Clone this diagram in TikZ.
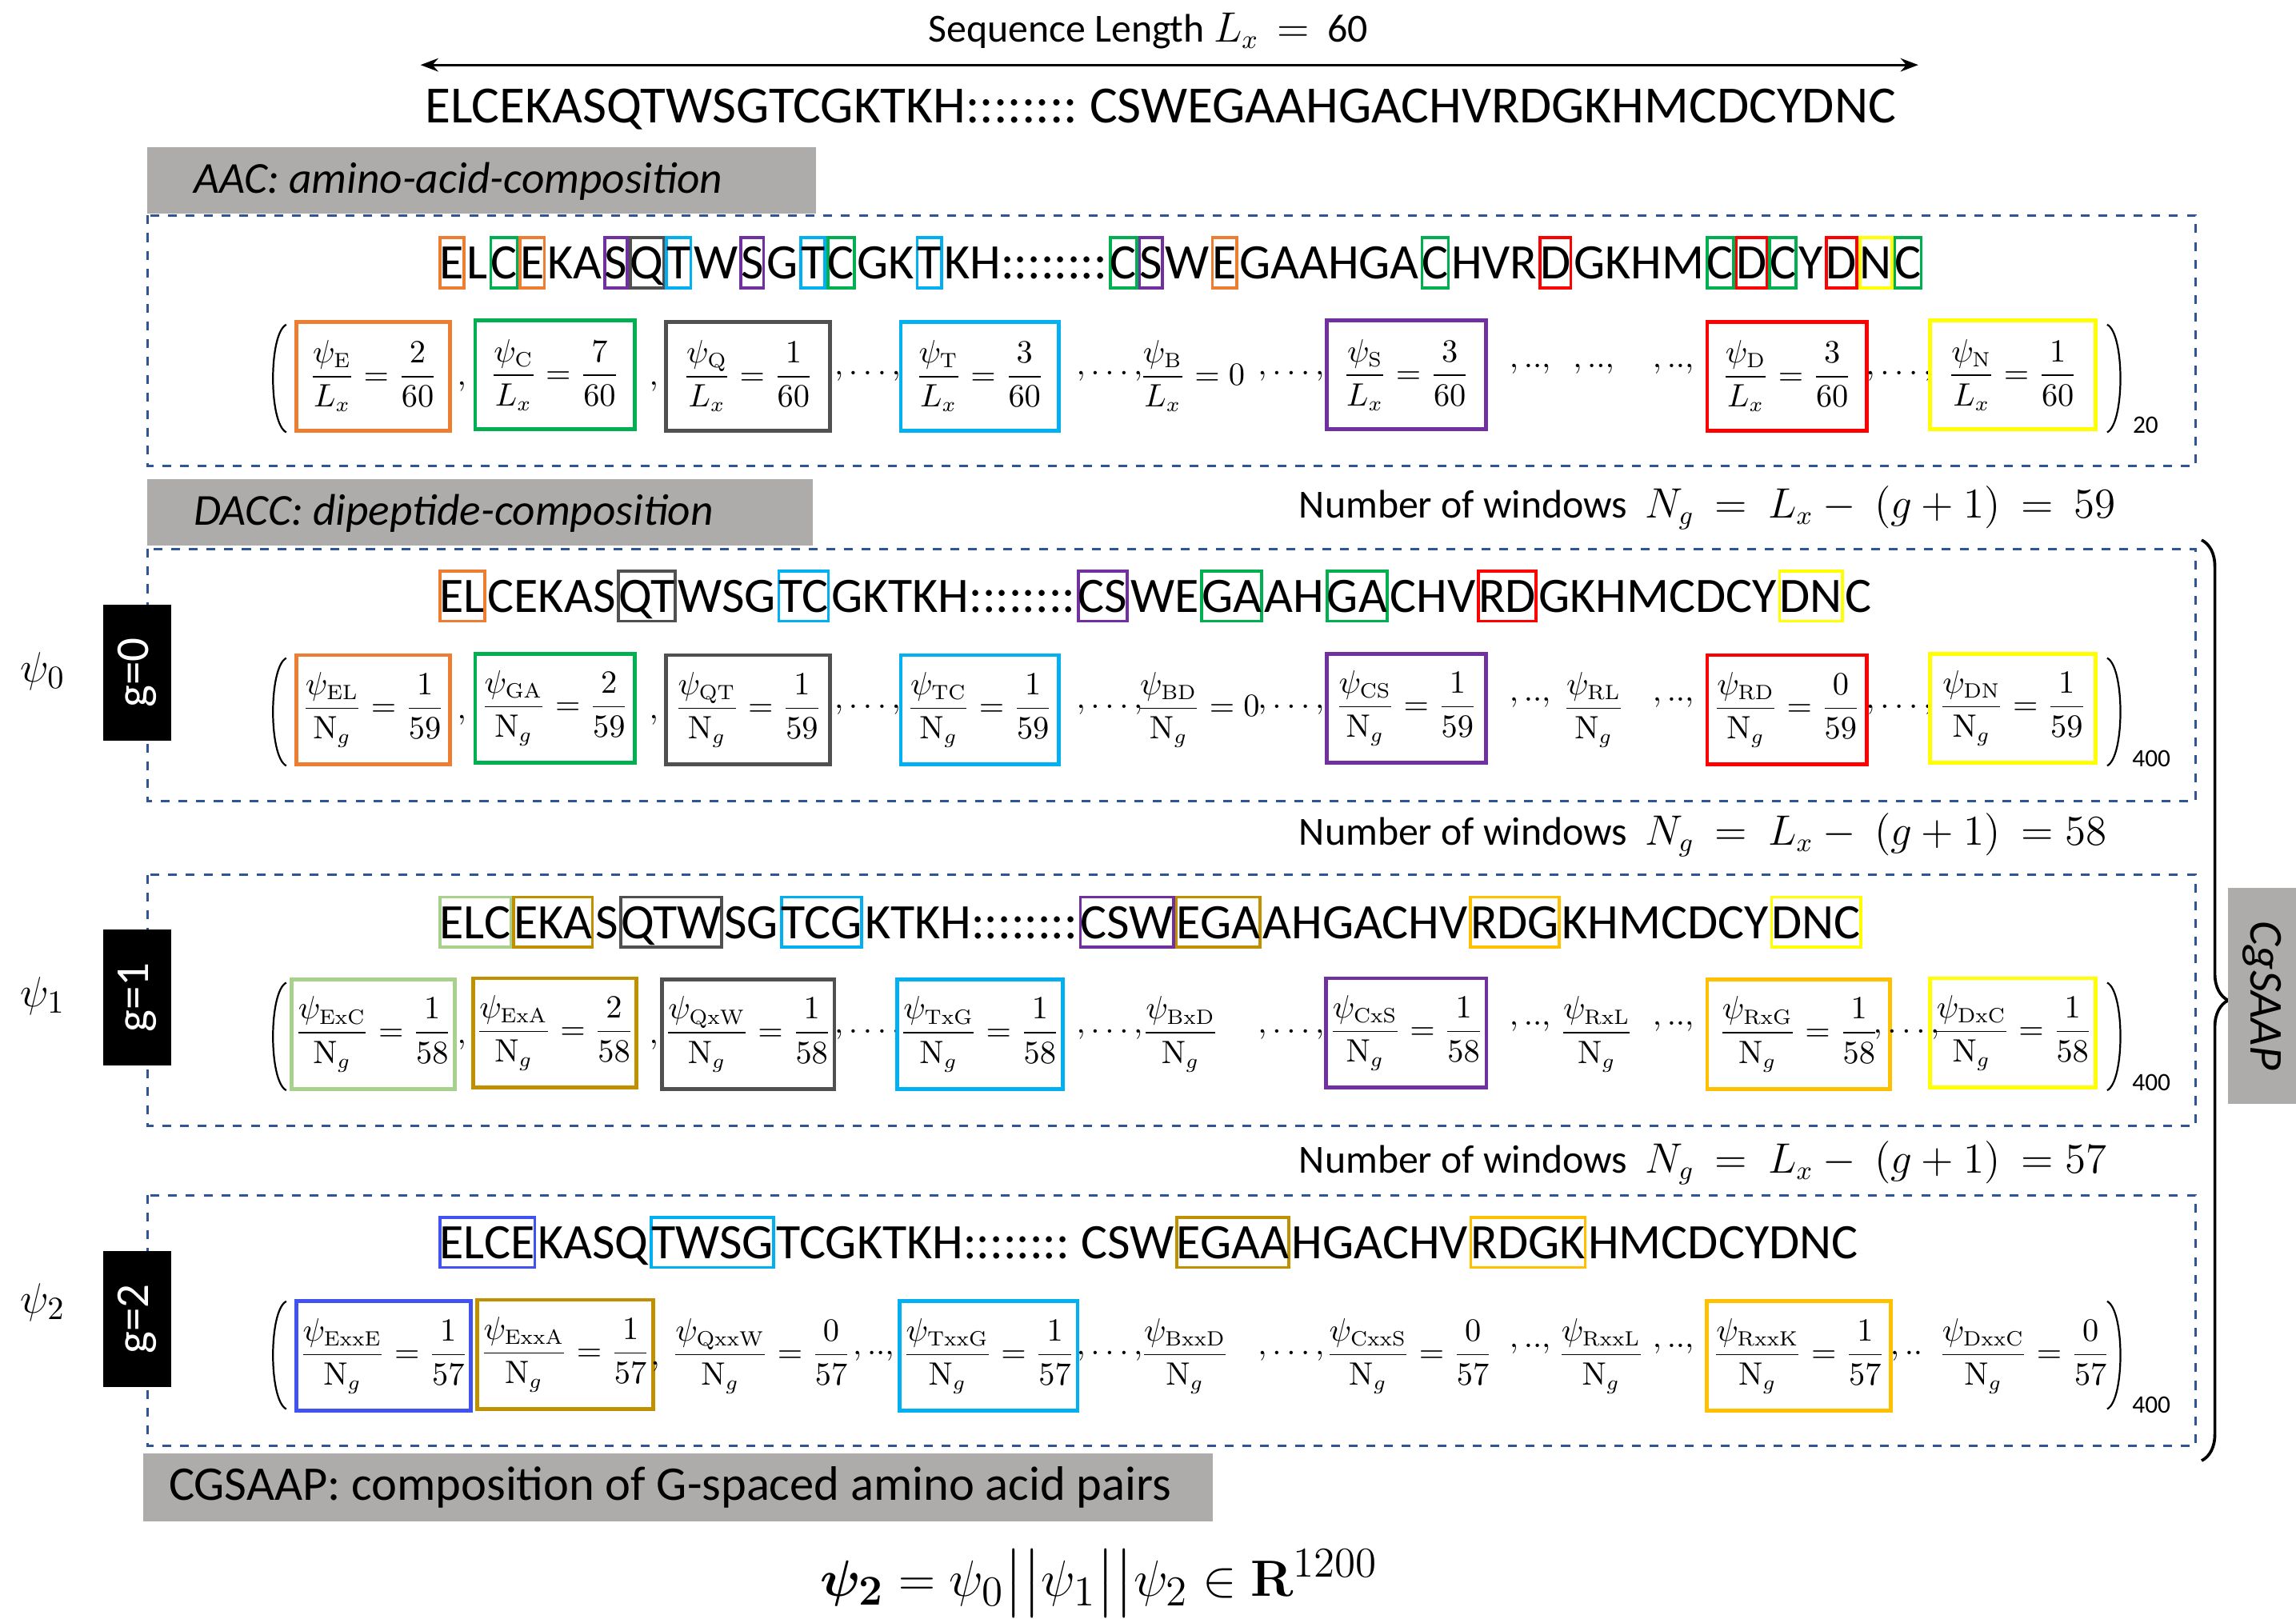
\documentclass[tikz,border=0pt]{standalone}
\usepackage{amsmath,amssymb}
\usepackage[no-math]{fontspec}
\setmainfont{Carlito}
\usetikzlibrary{decorations.pathreplacing,arrows.meta}
\definecolor{cO}{HTML}{ED7D31}\definecolor{cG}{HTML}{00B050}\definecolor{cD}{HTML}{505050}
\definecolor{cC}{HTML}{00B0F0}\definecolor{cP}{HTML}{7030A0}\definecolor{cR}{HTML}{FF0000}
\definecolor{cY}{HTML}{FFFF00}\definecolor{cL}{HTML}{A9D18E}\definecolor{cK}{HTML}{BF9000}
\definecolor{cA}{HTML}{FFC000}\definecolor{cB}{HTML}{4052F0}\definecolor{dash}{HTML}{2F5597}
\definecolor{lab}{HTML}{AEABAB}
\newcommand\seqrow[3]{\coordinate (#1p) at #2;
 \foreach \t/\c [count=\i] in {#3}{\node[seqg,seqs,draw=\c,anchor=west] (#1\i) at (#1p) {\t};\coordinate (#1p) at (#1\i.east);}}
\newcommand\fr[7]{\node[fb,draw=#4,minimum width=#3*0.5pt] (#1) at (#2) {$\dfrac{\psi_{\mathrm{#5}}}{#6}#7$};}
\newcommand\tx[3]{\node[mt] (#1) at (#2) {$#3$};}
\begin{document}
\begin{tikzpicture}[x=0.5pt,y=-0.5pt,
 seqg/.style={inner xsep=0pt,inner ysep=2.5pt,line width=1pt,font=\fontsize{17.7}{17.7}\selectfont,text height=11.5pt,text depth=0.5pt},
 seqs/.style={font=\fontsize{16.8}{16.8}\selectfont},
 fb/.style={line width=1.3pt,minimum height=37pt,inner sep=1pt,font=\fontsize{10.5}{10.5}\selectfont},
 mt/.style={inner sep=1pt,font=\fontsize{11}{11}\selectfont},
 dbox/.style={draw=dash,dashed,line width=0.8pt},
 glab/.style={anchor=west,inner sep=0pt,font=\fontsize{15}{15}\selectfont\itshape},
 nw/.style={anchor=west,inner sep=0pt,font=\fontsize{13.5}{13.5}\selectfont},
 gb/.style={fill=black,text=white,rotate=90,minimum width=46pt,minimum height=23pt,inner sep=0pt,font=\fontsize{16}{16}\selectfont},
 paren/.style={line width=0.6pt}]
\useasboundingbox (0,0) rectangle (1556,1100);
% title
\node[inner sep=0pt,font=\fontsize{13.5}{13.5}\selectfont] (title) at (778,21) {Sequence Length $L_x$ \ $=$ \ 60};
\coordinate (al) at (285,44); \coordinate (ar) at (1300,44);
\draw[{Stealth[length=6pt]}-{Stealth[length=6pt]},line width=0.8pt] (al) -- (ar);
\node[seqg,anchor=west] (seq0) at (287,72) {ELCEKASQTWSGTCGKTKH::::::::~CSWEGAAHGACHVRDGKHMCDCYDNC};
% AAC
\fill[lab] (100,100) rectangle (553,145);
\node[glab] (aac) at (131,123) {AAC: amino-acid-composition};
\draw[dbox] (100,146) rectangle (1488,316);
\seqrow{a}{(297,178)}{E/cO,L/none,C/cG,E/cO,KA/none,S/cP,Q/cD,T/cC,W/none,S/cP,G/none,T/cC,C/cG,GK/none,T/cC,KH::::::::~/none,C/cG,S/cP,W/none,E/cO,GAAHGA/none,C/cG,HVR/none,D/cR,GKHM/none,C/cG,D/cR,C/cG,Y/none,D/cR,N/cY,C/cG}
\draw[paren] (194,220) .. controls (182,226) and (182,287) .. (194,293);
\fr{a1}{253,255}{104}{cO}{E}{L_x}{=\dfrac{2}{60}}
\tx{ac1}{313,262}{,}
\fr{a2}{376,254}{108}{cG}{C}{L_x}{=\dfrac{7}{60}}
\tx{ac2}{443,262}{,}
\fr{a3}{507,255}{111}{cD}{Q}{L_x}{=\dfrac{1}{60}}
\tx{ac3}{588,255}{,\ldots,}
\fr{a4}{664,255}{107}{cC}{T}{L_x}{=\dfrac{3}{60}}
\tx{ac4}{752,255}{,\ldots,}
\fr{a5}{808,255}{0}{none}{B}{L_x}{=0}
\tx{ac5}{875,255}{,\ldots,}
\fr{a6}{953,254}{108}{cP}{S}{L_x}{=\dfrac{3}{60}}
\tx{ac6}{1037,250}{,..,}\tx{ac7}{1080,250}{,..,}\tx{ac8}{1134,250}{,..,}
\fr{a7}{1211,255}{108}{cR}{D}{L_x}{=\dfrac{3}{60}}
\tx{ac9}{1287,255}{,\ldots,}
\fr{a8}{1364,254}{112}{cY}{N}{L_x}{=\dfrac{1}{60}}
\draw[paren] (1428,220) .. controls (1440,226) and (1440,287) .. (1428,293);
\node[mt,font=\fontsize{8.5}{8.5}\selectfont] (s1) at (1454,288) {20};
% DACC
\fill[lab] (100,325) rectangle (551,370);
\node[glab] (dacc) at (131,348) {DACC: dipeptide-composition};
\node[nw] (nw0) at (880,344) {Number of windows \ $N_g\ =\ L_x-\ (g+1)\ =\ 59$};
\draw[dbox] (100,372) rectangle (1488,543);
\node[gb] (g0) at (93,456) {g=0};
\node[inner sep=0pt,font=\fontsize{15}{15}\selectfont] (p0) at (29,455) {$\psi_0$};
\seqrow{b}{(297,404)}{EL/cO,CEKAS/none,QT/cD,WSG/none,TC/cC,GKTKH::::::::~/none,CS/cP,WE/none,GA/cG,AH/none,GA/cG,CHV/none,RD/cR,GKHMCDCY/none,DN/cY,C/none}
\draw[paren] (194,446) .. controls (182,452) and (182,513) .. (194,519);
\fr{b1}{253,481}{104}{cO}{EL}{\mathrm{N}_g}{=\dfrac{1}{59}}
\tx{bc1}{313,488}{,}
\fr{b2}{376,480}{108}{cG}{GA}{\mathrm{N}_g}{=\dfrac{2}{59}}
\tx{bc2}{443,488}{,}
\fr{b3}{507,481}{111}{cD}{QT}{\mathrm{N}_g}{=\dfrac{1}{59}}
\tx{bc3}{588,481}{,\ldots,}
\fr{b4}{664,481}{107}{cC}{TC}{\mathrm{N}_g}{=\dfrac{1}{59}}
\tx{bc4}{752,481}{,\ldots,}
\fr{b5}{812,481}{0}{none}{BD}{\mathrm{N}_g}{=0}
\tx{bc5}{875,481}{,\ldots,}
\fr{b6}{953,480}{108}{cP}{CS}{\mathrm{N}_g}{=\dfrac{1}{59}}
\tx{bc6}{1037,476}{,..,}
\fr{b7}{1080,481}{0}{none}{RL}{\mathrm{N}_g}{}
\tx{bc8}{1134,476}{,..,}
\fr{b8}{1211,481}{108}{cR}{RD}{\mathrm{N}_g}{=\dfrac{0}{59}}
\tx{bc9}{1287,481}{,\ldots,}
\fr{b9}{1364,480}{112}{cY}{DN}{\mathrm{N}_g}{=\dfrac{1}{59}}
\draw[paren] (1428,446) .. controls (1440,452) and (1440,513) .. (1428,519);
\node[mt,font=\fontsize{8.5}{8.5}\selectfont] (s2) at (1458,514) {400};
% g=1
\node[nw] (nw1) at (880,566) {Number of windows \ $N_g\ =\ L_x-\ (g+1)\ =58$};
\draw[dbox] (100,593) rectangle (1488,763);
\node[gb] (g1) at (93,676) {g=1};
\node[inner sep=0pt,font=\fontsize{15}{15}\selectfont] (p1) at (29,675) {$\psi_1$};
\seqrow{c}{(297,625)}{ELC/cL,EKA/cK,S/none,QTW/cD,SG/none,TCG/cC,KTKH::::::::~/none,CSW/cP,EGA/cK,AHGACHV/none,RDG/cA,KHMCDCY/none,DNC/cY}
\draw[paren] (194,666) .. controls (182,672) and (182,733) .. (194,739);
\fr{c1}{253,701}{104}{cL}{ExC}{\mathrm{N}_g}{=\dfrac{1}{58}}
\tx{cc1}{313,708}{,}
\fr{c2}{376,700}{108}{cK}{ExA}{\mathrm{N}_g}{=\dfrac{2}{58}}
\tx{cc2}{443,708}{,}
\fr{c3}{507,701}{111}{cD}{QxW}{\mathrm{N}_g}{=\dfrac{1}{58}}
\tx{cc3}{588,701}{,\ldots,}
\fr{c4}{664,701}{107}{cC}{TxG}{\mathrm{N}_g}{=\dfrac{1}{58}}
\tx{cc4}{752,701}{,\ldots,}
\fr{c5}{800,701}{0}{none}{BxD}{\mathrm{N}_g}{}
\tx{cc5}{875,701}{,\ldots,}
\fr{c6}{953,700}{108}{cP}{CxS}{\mathrm{N}_g}{=\dfrac{1}{58}}
\tx{cc6}{1037,696}{,..,}
\fr{c7}{1082,701}{0}{none}{RxL}{\mathrm{N}_g}{}
\tx{cc8}{1134,696}{,..,}
\fr{c8}{1219,701}{124}{cA}{RxG}{\mathrm{N}_g}{=\dfrac{1}{58}}
\tx{cc9}{1292,701}{,\ldots,}
\fr{c9}{1364,700}{112}{cY}{DxC}{\mathrm{N}_g}{=\dfrac{1}{58}}
\draw[paren] (1428,666) .. controls (1440,672) and (1440,733) .. (1428,739);
\node[mt,font=\fontsize{8.5}{8.5}\selectfont] (s3) at (1458,734) {400};
% g=2
\node[nw] (nw2) at (880,788) {Number of windows \ $N_g\ =\ L_x-\ (g+1)\ =57$};
\draw[dbox] (100,810) rectangle (1488,980);
\node[gb] (g2) at (93,894) {g=2};
\node[inner sep=0pt,font=\fontsize{15}{15}\selectfont] (p2) at (29,883) {$\psi_2$};
\seqrow{d}{(297,842)}{ELCE/cB,KASQ/none,TWSG/cC,TCGKTKH::::::::~CSW/none,EGAA/cK,HGACHV/none,RDGK/cA,HMCDCYDNC/none}
\draw[paren] (194,882) .. controls (182,888) and (182,949) .. (194,955);
\fr{d1}{260,919}{118}{cB}{ExxE}{\mathrm{N}_g}{=\dfrac{1}{57}}
\fr{d2}{383,918}{109}{cK}{ExxA}{\mathrm{N}_g}{=\dfrac{1}{57}}
\tx{dc2}{444,926}{,}
\fr{d3}{516,919}{0}{none}{QxxW}{\mathrm{N}_g}{=\dfrac{0}{57}}
\tx{dc3}{592,919}{,..,}
\fr{d4}{670,919}{119}{cC}{TxxG}{\mathrm{N}_g}{=\dfrac{1}{57}}
\tx{dc4}{752,919}{,\ldots,}
\fr{d5}{803,919}{0}{none}{BxxD}{\mathrm{N}_g}{}
\tx{dc5}{875,919}{,\ldots,}
\fr{d6}{955,919}{0}{none}{CxxS}{\mathrm{N}_g}{=\dfrac{0}{57}}
\tx{dc6}{1037,914}{,..,}
\fr{d7}{1085,919}{0}{none}{RxxL}{\mathrm{N}_g}{}
\tx{dc8}{1134,914}{,..,}
\fr{d8}{1219,919}{125}{cA}{RxxK}{\mathrm{N}_g}{=\dfrac{1}{57}}
\tx{dc9}{1292,919}{,..}
\fr{d9}{1372,919}{0}{none}{DxxC}{\mathrm{N}_g}{=\dfrac{0}{57}}
\draw[paren] (1428,882) .. controls (1440,888) and (1440,949) .. (1428,955);
\node[mt,font=\fontsize{8.5}{8.5}\selectfont] (s4) at (1458,952) {400};
% CGSAAP
\fill[lab] (97,985) rectangle (822,1031);
\node[glab,font=\fontsize{16.4}{16.4}\selectfont] (cg) at (114,1008) {CGSAAP: composition of G-spaced amino acid pairs};
\node[inner sep=0pt,font=\fontsize{19}{19}\selectfont] (fin) at (745,1073) {$\boldsymbol{\psi_2}=\psi_0\big|\big|\psi_1\big|\big|\psi_2\in\mathbf{R}^{1200}$};
\coordinate (bt) at (1492,366); \coordinate (bb) at (1492,990);
\draw[decorate,decoration={brace,amplitude=9pt},line width=1pt] (bt) -- (bb);
\node[fill=lab,rotate=-90,minimum width=73pt,minimum height=23pt,inner sep=0pt,font=\fontsize{16}{16}\selectfont\itshape] (cgs) at (1533,675) {CgSAAP};
\end{tikzpicture}
\end{document}
